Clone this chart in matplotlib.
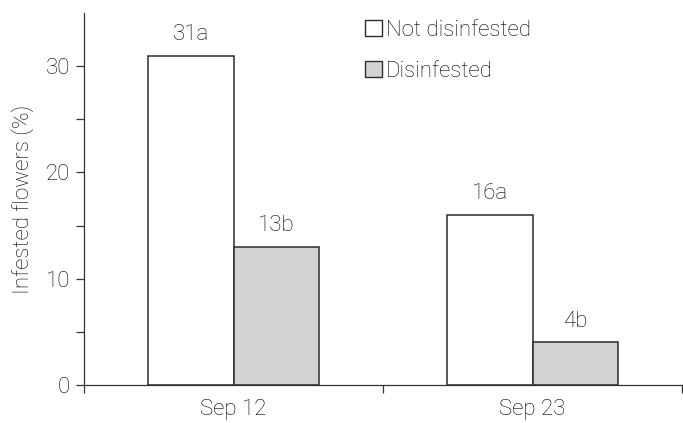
import matplotlib
matplotlib.use("Agg")
import matplotlib.pyplot as plt
import numpy as np
from matplotlib.patches import Patch

# ---------------------------------------------------------------------------
# Data
# ---------------------------------------------------------------------------
dates          = ["Sep 12", "Sep 23"]
not_disinf     = [31, 16]
disinf         = [13, 4]
not_disinf_lab = ["31a", "16a"]
disinf_lab     = ["13b", "4b"]

FS = 16

plt.rcParams.update({
    "font.family": ["Roboto", "DejaVu Sans"],
    "font.weight": "light",
    "axes.labelweight": "light",
    "font.size": FS,
    "text.color": "black",
    "axes.labelcolor": "black",
    "xtick.color": "black",
    "ytick.color": "black",
})

fig = plt.figure(figsize=(6.83, 4.23), dpi=100)
ax = fig.add_axes([84 / 683, 38 / 423, 598 / 683, 372 / 423])

x = np.arange(len(dates))
w = 0.287
edge = "#2b2b2b"

ax.bar(x - w / 2, not_disinf, w, color="white", edgecolor=edge, linewidth=1.1)
ax.bar(x + w / 2, disinf, w, color="#d3d3d5", edgecolor=edge, linewidth=1.1)

for xi, v, lab in zip(x - w / 2, not_disinf, not_disinf_lab):
    ax.text(xi, v + 1.0, lab, ha="center", va="bottom")
for xi, v, lab in zip(x + w / 2, disinf, disinf_lab):
    ax.text(xi, v + 1.0, lab, ha="center", va="bottom")

ax.set_xlim(-0.5, 1.5)
ax.set_ylim(0, 35)

ax.set_yticks([0, 10, 20, 30])
ax.set_yticks([5, 15, 25], minor=True)
ax.tick_params(axis="y", which="both", direction="out", length=6, width=0.9,
               color="#333333", pad=4)

ax.set_xticks(x)
ax.set_xticklabels(dates)
ax.set_xticks([-0.5, 0.5, 1.5], minor=True)
ax.tick_params(axis="x", which="major", length=0, pad=10)
ax.tick_params(axis="x", which="minor", direction="out", length=6, width=0.9,
               color="#333333")

for s in ["top", "right"]:
    ax.spines[s].set_visible(False)
for s in ["left", "bottom"]:
    ax.spines[s].set_linewidth(0.9)
    ax.spines[s].set_color("#333333")

ax.set_ylabel("Infested flowers (%)", labelpad=8)

handles = [
    Patch(facecolor="white", edgecolor=edge, linewidth=1.0, label="Not disinfested"),
    Patch(facecolor="#d3d3d5", edgecolor=edge, linewidth=1.0, label="Disinfested"),
]
ax.legend(handles=handles, loc="upper left", bbox_to_anchor=(0.44, 1.03),
          frameon=False, handlelength=0.78, handleheight=0.78, handletextpad=0.15,
          labelspacing=0.9, borderpad=0.3)

fig.savefig("out.png", dpi=100)
